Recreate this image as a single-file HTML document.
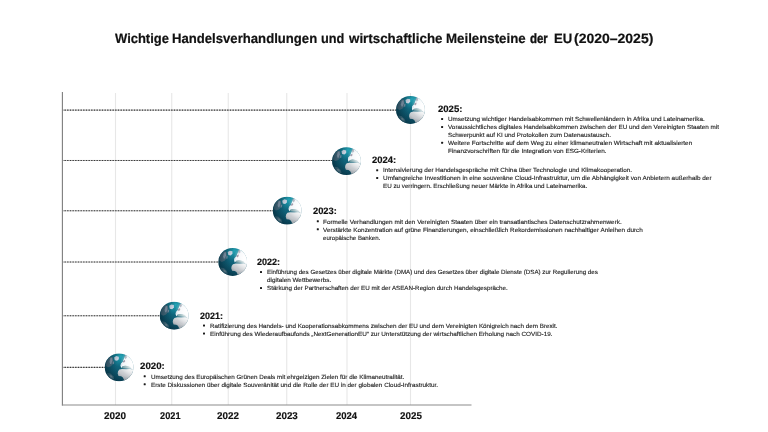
<!DOCTYPE html>
<html lang="de"><head><meta charset="utf-8"><title>EU Meilensteine 2020–2025</title>
<style>
html,body{margin:0;padding:0;background:#fff;}
body{width:768px;height:432px;position:relative;overflow:hidden;font-family:"Liberation Sans",sans-serif;text-rendering:geometricPrecision;}
.t{position:absolute;white-space:nowrap;transform-origin:0 50%;line-height:1;}
.b{color:#1c1c1c;font-size:6.0px;-webkit-text-stroke:0.12px #1c1c1c;}
.h{color:#111;font-weight:bold;font-size:9.3px;-webkit-text-stroke:0.18px #111;}
.y{color:#111;font-weight:bold;font-size:9.8px;-webkit-text-stroke:0.15px #111;}
.title{color:#111;font-weight:bold;font-size:13.6px;-webkit-text-stroke:0.2px #111;}
.dot{position:absolute;width:1.7px;height:1.7px;border-radius:0.6px;background:#222;}
svg{position:absolute;left:0;top:0;}
</style></head><body>

<svg width="768" height="432" viewBox="0 0 768 432">
<defs>
<radialGradient id="oc" cx="0.55" cy="0.10" r="0.95">
<stop offset="0" stop-color="#24a5b7"/><stop offset="0.16" stop-color="#188a9e"/><stop offset="0.4" stop-color="#10647b"/><stop offset="1" stop-color="#0a455a"/>
</radialGradient>
<radialGradient id="sh" cx="0.82" cy="0.42" r="0.95">
<stop offset="0" stop-color="#04202e" stop-opacity="0"/><stop offset="0.42" stop-color="#04202e" stop-opacity="0"/><stop offset="0.7" stop-color="#04202e" stop-opacity="0.3"/><stop offset="1" stop-color="#04202e" stop-opacity="0.72"/>
</radialGradient>
<radialGradient id="hl" cx="1.03" cy="0.36" r="0.5">
<stop offset="0" stop-color="#fff" stop-opacity="1"/><stop offset="0.3" stop-color="#fff" stop-opacity="0.95"/><stop offset="0.6" stop-color="#fff" stop-opacity="0.5"/><stop offset="1" stop-color="#fff" stop-opacity="0"/>
</radialGradient>
<linearGradient id="ld" x1="0.85" y1="0" x2="0.2" y2="1"><stop offset="0" stop-color="#e9ebed"/><stop offset="0.45" stop-color="#cbced2"/><stop offset="1" stop-color="#a9aeb5"/></linearGradient>
<filter id="bl" x="-10%" y="-10%" width="120%" height="120%"><feGaussianBlur stdDeviation="1.5"/></filter>
<clipPath id="gc"><circle cx="50" cy="50" r="49.5"/></clipPath>
<symbol id="globe" viewBox="0 0 100 100" preserveAspectRatio="none">
<circle cx="50" cy="50" r="49.5" fill="url(#oc)"/>
<g clip-path="url(#gc)" filter="url(#bl)">
<!-- N America / Greenland -->
<path d="M3,44 L6,30 L12,20 L20,12 L28,14 L30,26 L28,38 L22,46 L12,50 Z" fill="#4f7284"/>
<path d="M17,30 L20,17 L26,15 L27,26 L23,38 L19,38 Z" fill="#93a3b6"/>
<path d="M33,15 L40,10 L49,12 L49,21 L43,27 L35,25 Z" fill="#cfd8e6"/>
<path d="M28,30 L33,28 L32,38 L28,39 Z" fill="#7793a6"/>
<!-- Europe / Asia -->
<path d="M76,3 L70,12 L66,21 L63,30 L57,36 L55,44 L57,52 L62,47 L70,44.5 L80,46 L88,50 L96,58 L102,60 L102,30 L92,10 Z" fill="#f1f4f8"/>
<!-- Mediterranean tint -->
<path d="M61,46 L74,44.5 L88,47.5 L89,53 L74,52 L61.5,52 Z" fill="#5c8c93"/>
<!-- Africa -->
<path d="M45,72 L46.5,64 L51,58 L60,55.5 L74,56.5 L88,55.5 L100,60 L100,72 L93,82 L85,90 L77,97 L69,99 L66,92 L63,86 L57,82 L48,81 Z" fill="url(#ld)"/>
<!-- S America hint -->
<path d="M8,70 L20,72 L30,82 L33,92 L22,92 L12,82 Z" fill="#4b788a" opacity="0.95"/><path d="M16,77 L24,79 L28,87 L20,86 Z" fill="#8aa5b1"/>
<!-- specks -->
<path d="M63,29 L70,23 L71,29 L66,34 Z" fill="#4b3f5c" opacity="0.8"/>
<path d="M68,11 L75,6 L77,16 L71,21 Z" fill="#7f8c9c" opacity="0.85"/>
<path d="M56,38 L61,35 L61,43 L56,45 Z" fill="#d6e0ec"/>
</g>
<circle cx="50" cy="50" r="49.5" fill="url(#sh)"/>
<circle cx="50" cy="50" r="49.5" fill="url(#hl)"/>
</symbol>
</defs>

<line x1="115.5" y1="93" x2="115.5" y2="405" stroke="#e7e7e7" stroke-width="1.1"/>
<line x1="171.75" y1="93" x2="171.75" y2="405" stroke="#e7e7e7" stroke-width="1.1"/>
<line x1="228.25" y1="93" x2="228.25" y2="405" stroke="#e7e7e7" stroke-width="1.1"/>
<line x1="286.75" y1="93" x2="286.75" y2="405" stroke="#e7e7e7" stroke-width="1.1"/>
<line x1="347" y1="93" x2="347" y2="405" stroke="#e7e7e7" stroke-width="1.1"/>
<line x1="410.5" y1="93" x2="410.5" y2="405" stroke="#e7e7e7" stroke-width="1.1"/>
<line x1="62.4" y1="92" x2="62.4" y2="405.4" stroke="#7d7d7d" stroke-width="1.1"/>
<line x1="61.9" y1="405" x2="471.5" y2="405" stroke="#8c8c8c" stroke-width="1.1"/>
<line x1="62.9" y1="367.4" x2="105.25" y2="367.4" stroke="#c4c4c4" stroke-width="1"/>
<line x1="62.9" y1="367.4" x2="105.25" y2="367.4" stroke="#383838" stroke-width="1.1" stroke-dasharray="1.4 1.2667" stroke-dashoffset="1.1"/>
<line x1="62.9" y1="315.8" x2="160.30" y2="315.8" stroke="#c4c4c4" stroke-width="1"/>
<line x1="62.9" y1="315.8" x2="160.30" y2="315.8" stroke="#383838" stroke-width="1.1" stroke-dasharray="1.4 1.2667" stroke-dashoffset="1.1"/>
<line x1="62.9" y1="262.06" x2="218.85" y2="262.06" stroke="#c4c4c4" stroke-width="1"/>
<line x1="62.9" y1="262.06" x2="218.85" y2="262.06" stroke="#383838" stroke-width="1.1" stroke-dasharray="1.4 1.2667" stroke-dashoffset="1.1"/>
<line x1="62.9" y1="210.8" x2="273.30" y2="210.8" stroke="#c4c4c4" stroke-width="1"/>
<line x1="62.9" y1="210.8" x2="273.30" y2="210.8" stroke="#383838" stroke-width="1.1" stroke-dasharray="1.4 1.2667" stroke-dashoffset="1.1"/>
<line x1="62.9" y1="160.45" x2="332.60" y2="160.45" stroke="#c4c4c4" stroke-width="1"/>
<line x1="62.9" y1="160.45" x2="332.60" y2="160.45" stroke="#383838" stroke-width="1.1" stroke-dasharray="1.4 1.2667" stroke-dashoffset="1.1"/>
<line x1="62.9" y1="110.1" x2="396.60" y2="110.1" stroke="#c4c4c4" stroke-width="1"/>
<line x1="62.9" y1="110.1" x2="396.60" y2="110.1" stroke="#383838" stroke-width="1.1" stroke-dasharray="1.4 1.2667" stroke-dashoffset="1.1"/>
<use href="#globe" x="104.60" y="353.25" width="29.0" height="28.2"/>
<use href="#globe" x="159.65" y="301.60" width="29.0" height="28.2"/>
<use href="#globe" x="218.20" y="247.85" width="29.0" height="28.2"/>
<use href="#globe" x="272.65" y="196.50" width="29.0" height="28.2"/>
<use href="#globe" x="331.95" y="147.00" width="29.0" height="28.2"/>
<use href="#globe" x="395.95" y="95.85" width="29.0" height="28.2"/>
</svg>
<div class="t title" style="left:114.50px;top:32px;transform:scaleX(0.9542)">Wichtige</div>
<div class="t title" style="left:172.06px;top:32px;transform:scaleX(0.9658)">Handelsverhandlungen</div>
<div class="t title" style="left:321.17px;top:32px;transform:scaleX(0.9371)">und</div>
<div class="t title" style="left:349.10px;top:32px;transform:scaleX(0.9821)">wirtschaftliche</div>
<div class="t title" style="left:445.65px;top:32px;transform:scaleX(0.9766)">Meilensteine</div>
<div class="t title" style="left:529.59px;top:32px;transform:scaleX(0.8401);-webkit-text-stroke:0.4px #111">der</div>
<div class="t title" style="left:553.56px;top:32px;transform:scaleX(0.9634)">EU</div>
<div class="t title" style="left:574.40px;top:32px;transform:scaleX(1.0289)">(2020–2025)</div>
<div class="t y" style="left:104.22px;top:412px;transform:scaleX(1.0151)">2020</div>
<div class="t y" style="left:160.14px;top:412px;transform:scaleX(0.9411)">2021</div>
<div class="t y" style="left:216.97px;top:412px;transform:scaleX(1.0056)">2022</div>
<div class="t y" style="left:275.72px;top:412px;transform:scaleX(1.0009)">2023</div>
<div class="t y" style="left:335.98px;top:412px;transform:scaleX(0.9707)">2024</div>
<div class="t y" style="left:399.67px;top:412px;transform:scaleX(1.0023)">2025</div>
<div class="t h" style="left:437.73px;top:105px;transform:scaleX(1.0251)">2025:</div>
<div class="t b" style="left:448px;top:117px;transform:scaleX(1.0547)">Umsetzung wichtiger Handelsabkommen mit Schwellenländern in Afrika und Lateinamerika.</div>
<div class="t b" style="left:448px;top:125px;transform:scaleX(1.0539)">Voraussichtliches digitales Handelsabkommen zwischen der EU und den Vereinigten Staaten mit</div>
<div class="t b" style="left:448px;top:133px;transform:scaleX(1.0511)">Schwerpunkt auf KI und Protokollen zum Datenaustausch.</div>
<div class="t b" style="left:448px;top:141px;transform:scaleX(1.0704)">Weitere Fortschritte auf dem Weg zu einer klimaneutralen Wirtschaft mit aktualisierten</div>
<div class="t b" style="left:448px;top:149px;transform:scaleX(1.0633)">Finanzvorschriften für die Integration von ESG-Kriterien.</div>
<div class="t h" style="left:372.23px;top:156px;transform:scaleX(1.0140)">2024:</div>
<div class="t b" style="left:382.5px;top:168px;transform:scaleX(1.0595)">Intensivierung der Handelsgespräche mit China über Technologie und Klimakooperation.</div>
<div class="t b" style="left:382.5px;top:176px;transform:scaleX(1.0683)">Umfangreiche Investitionen in eine souveräne Cloud-Infrastruktur, um die Abhängigkeit von Anbietern außerhalb der</div>
<div class="t b" style="left:382.5px;top:184px;transform:scaleX(1.0417)">EU zu verringern. Erschließung neuer Märkte in Afrika und Lateinamerika.</div>
<div class="t h" style="left:313.48px;top:207px;transform:scaleX(1.0030)">2023:</div>
<div class="t b" style="left:323.25px;top:220px;transform:scaleX(1.0651)">Formelle Verhandlungen mit den Vereinigten Staaten über ein transatlantisches Datenschutzrahmenwerk.</div>
<div class="t b" style="left:323.25px;top:228px;transform:scaleX(1.0582)">Verstärkte Konzentration auf grüne Finanzierungen, einschließlich Rekordemissionen nachhaltiger Anleihen durch</div>
<div class="t b" style="left:323.25px;top:236px;transform:scaleX(1.0156)">europäische Banken.</div>
<div class="t h" style="left:256.74px;top:258px;transform:scaleX(0.9699)">2022:</div>
<div class="t b" style="left:266.75px;top:270px;transform:scaleX(1.0321)">Einführung des Gesetzes über digitale Märkte (DMA) und des Gesetzes über digitale Dienste (DSA) zur Regulierung des</div>
<div class="t b" style="left:266.75px;top:278px;transform:scaleX(1.0605)">digitalen Wettbewerbs.</div>
<div class="t b" style="left:266.75px;top:286px;transform:scaleX(1.0402)">Stärkung der Partnerschaften der EU mit der ASEAN-Region durch Handelsgespräche.</div>
<div class="t h" style="left:199.54px;top:312px;transform:scaleX(0.9655)">2021:</div>
<div class="t b" style="left:209.5px;top:324px;transform:scaleX(1.0472)">Ratifizierung des Handels- und Kooperationsabkommens zwischen der EU und dem Vereinigten Königreich nach dem Brexit.</div>
<div class="t b" style="left:209.5px;top:332px;transform:scaleX(1.0588)">Einführung des Wiederaufbaufonds „NextGenerationEU“ zur Unterstützung der wirtschaftlichen Erholung nach COVID-19.</div>
<div class="t h" style="left:140.42px;top:362px;transform:scaleX(1.0405)">2020:</div>
<div class="t b" style="left:150.75px;top:375px;transform:scaleX(1.0460)">Umsetzung des Europäischen Grünen Deals mit ehrgeizigen Zielen für die Klimaneutralität.</div>
<div class="t b" style="left:150.75px;top:383px;transform:scaleX(1.0559)">Erste Diskussionen über digitale Souveränität und die Rolle der EU in der globalen Cloud-Infrastruktur.</div>
<svg width="768" height="432" viewBox="0 0 768 432"><rect x="441.10" y="117.95" width="2" height="2" rx="0.55" fill="#1a1a1a"/><rect x="441.10" y="125.95" width="2" height="2" rx="0.55" fill="#1a1a1a"/><rect x="441.10" y="141.80" width="2" height="2" rx="0.55" fill="#1a1a1a"/><rect x="376.20" y="169.20" width="2" height="2" rx="0.55" fill="#1a1a1a"/><rect x="376.20" y="176.95" width="2" height="2" rx="0.55" fill="#1a1a1a"/><rect x="316.80" y="220.30" width="2" height="2" rx="0.55" fill="#1a1a1a"/><rect x="316.80" y="228.20" width="2" height="2" rx="0.55" fill="#1a1a1a"/><rect x="260.00" y="271.10" width="2" height="2" rx="0.55" fill="#1a1a1a"/><rect x="260.00" y="287.10" width="2" height="2" rx="0.55" fill="#1a1a1a"/><rect x="203.00" y="324.45" width="2" height="2" rx="0.55" fill="#1a1a1a"/><rect x="203.00" y="332.60" width="2" height="2" rx="0.55" fill="#1a1a1a"/><rect x="143.70" y="375.30" width="2" height="2" rx="0.55" fill="#1a1a1a"/><rect x="143.70" y="383.30" width="2" height="2" rx="0.55" fill="#1a1a1a"/></svg>
</body></html>
